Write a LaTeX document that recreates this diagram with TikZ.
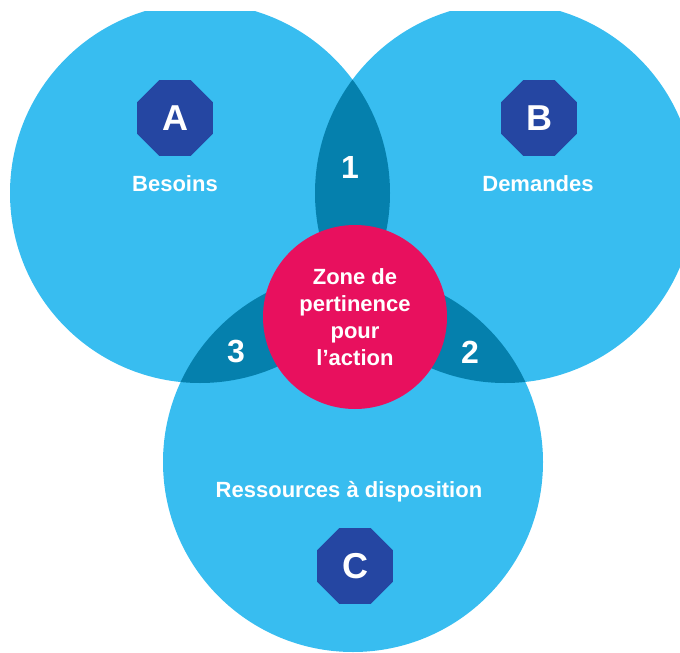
\documentclass[tikz,border=0pt]{standalone}
\usepackage{fontspec}
\setmainfont{Liberation Sans}
\usetikzlibrary{shapes.geometric}

\definecolor{venn}{HTML}{38BDF0}
\definecolor{lens}{HTML}{0580AD}
\definecolor{zone}{HTML}{E8105E}
\definecolor{navy}{HTML}{2546A2}

\begin{document}
\begin{tikzpicture}[x=1pt,y=-1pt,
  lbl/.style={text=white,font=\bfseries\fontsize{22}{27}\selectfont},
  num/.style={text=white,font=\bfseries\fontsize{32}{36}\selectfont},
  badge/.style={regular polygon,regular polygon sides=8,fill=navy,
    minimum size=82pt,inner sep=0pt,text=white,
    font=\bfseries\fontsize{36}{40}\selectfont}]
\useasboundingbox (0,0) rectangle (680,653);
\coordinate (cA) at (200,193);
\coordinate (cB) at (505,193);
\coordinate (cC) at (353,462);
\begin{scope}
\clip (0,11) rectangle (680,653);
% the three sets
\fill[venn] (cA) circle (190pt);
\fill[venn] (cB) circle (190pt);
\fill[venn] (cC) circle (190pt);
% pairwise overlaps
\begin{scope}
\clip (cA) circle (190pt);
\fill[lens] (cB) circle (190pt);
\fill[lens] (cC) circle (190pt);
\end{scope}
\begin{scope}
\clip (cB) circle (190pt);
\fill[lens] (cC) circle (190pt);
\end{scope}
\end{scope}
% centre
\node[circle,fill=zone,minimum size=184pt,inner sep=0pt,align=center,lbl]
  (zone) at (355,317) {Zone de\\pertinence\\pour\\l’action};
\node[badge] (octA) at (175,118) {A};
\node[badge] (octB) at (539,118) {B};
\node[badge] (octC) at (355,566) {C};
\node[lbl] (besoins) at (175,184) {Besoins};
\node[lbl] (demandes) at (538,184) {Demandes};
\node[lbl] (ressources) at (349,492) {Ressources à disposition};
\node[num] (n1) at (350,167) {1};
\node[num] (n2) at (470,352) {2};
\node[num] (n3) at (236,352) {3};
\end{tikzpicture}
\end{document}
